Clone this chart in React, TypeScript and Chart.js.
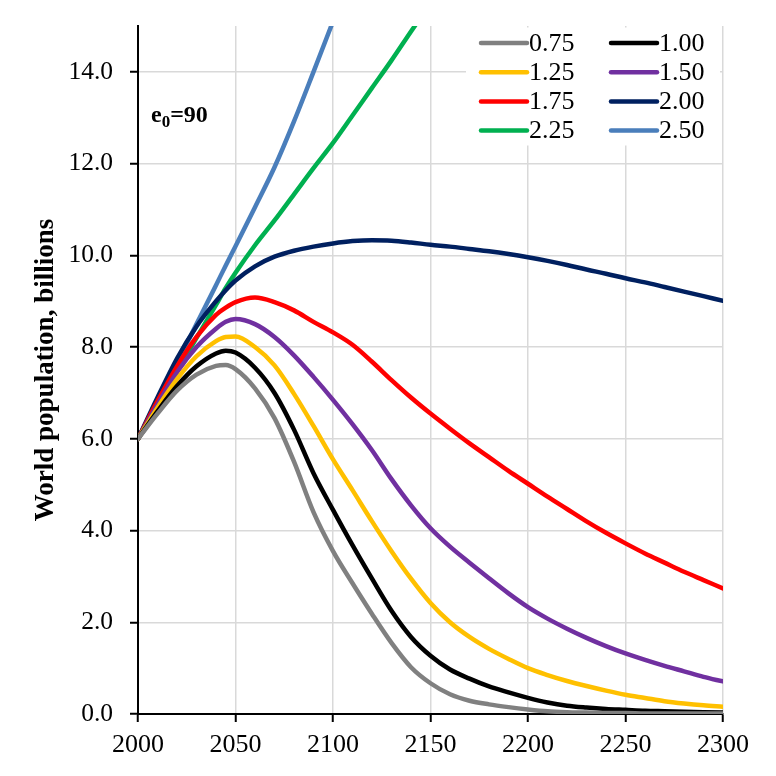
import React, { useEffect, useRef } from "react";
import { Chart, registerables } from "chart.js";

Chart.register(...registerables);

const years = [
  2000, 2010, 2020, 2030, 2040, 2045, 2050, 2060, 2070, 2080, 2090, 2100, 2110, 2120, 2130, 2140,
  2150, 2160, 2170, 2180, 2190, 2200, 2210, 2220, 2230, 2240, 2250, 2260, 2270, 2280, 2290, 2300,
];

const seriesLabels = ["0.75", "1.00", "1.25", "1.50", "1.75", "2.00", "2.25", "2.50"];

const tfr075 = [
  6.0, 6.55, 7.05, 7.4, 7.59, 7.61, 7.52, 7.1, 6.45, 5.5, 4.4, 3.55, 2.85, 2.18, 1.55, 1.02,
  0.67, 0.43, 0.29, 0.21, 0.15, 0.1, 0.06, 0.04, 0.03, 0.02, 0.02, 0.01, 0.01, 0.01, 0.01, 0.01,
];
const tfr100 = [
  6.0, 6.6, 7.15, 7.58, 7.86, 7.92, 7.88, 7.55, 7.0, 6.2, 5.25, 4.45, 3.68, 2.95, 2.25, 1.68,
  1.27, 0.97, 0.77, 0.6, 0.47, 0.35, 0.25, 0.18, 0.14, 0.11, 0.09, 0.07, 0.06, 0.05, 0.04, 0.03,
];
const tfr125 = [
  6.0, 6.68, 7.3, 7.8, 8.13, 8.22, 8.23, 8.0, 7.6, 6.98, 6.28, 5.55, 4.88, 4.2, 3.55, 2.95,
  2.42, 2.0, 1.68, 1.42, 1.2, 1.0, 0.85, 0.72, 0.61, 0.51, 0.42, 0.35, 0.28, 0.23, 0.19, 0.16,
];
const tfr150 = [
  6.0, 6.75, 7.45, 8.0, 8.4, 8.55, 8.61, 8.5, 8.22, 7.82, 7.35, 6.85, 6.32, 5.75, 5.12, 4.55,
  4.05, 3.65, 3.3, 2.96, 2.63, 2.33, 2.08, 1.86, 1.66, 1.48, 1.32, 1.18, 1.05, 0.93, 0.81, 0.71,
];
const tfr175 = [
  6.0, 6.82, 7.58, 8.22, 8.7, 8.86, 8.98, 9.08, 8.98, 8.8, 8.55, 8.32, 8.05, 7.68, 7.28, 6.9,
  6.55, 6.22, 5.9, 5.6, 5.3, 5.02, 4.74, 4.47, 4.2, 3.95, 3.72, 3.5, 3.3, 3.1, 2.92, 2.74,
];
const tfr200 = [
  6.0, 6.9, 7.75, 8.45, 9.0, 9.24, 9.45, 9.76, 9.97, 10.1, 10.19, 10.26, 10.31, 10.33, 10.32, 10.28,
  10.23, 10.19, 10.14, 10.09, 10.03, 9.96, 9.88, 9.79, 9.69, 9.6, 9.5, 9.41, 9.31, 9.21, 9.11, 9.01,
];
const tfr225 = [
  6.0, 6.73, 7.46, 8.2, 8.92, 9.29, 9.62, 10.22, 10.76, 11.33, 11.9, 12.45, 13.05, 13.65, 14.25, 14.88,
  15.5, null, null, null, null, null, null, null, null, null, null, null, null, null, null, null,
];
const tfr250 = [
  6.0, 6.83, 7.66, 8.5, 9.35, 9.78, 10.2, 11.05, 11.92, 12.92, 14.0, 15.1, 16.2, null, null, null,
  null, null, null, null, null, null, null, null, null, null, null, null, null, null, null, null,
];

const seriesValues = [tfr075, tfr100, tfr125, tfr150, tfr175, tfr200, tfr225, tfr250];
const seriesColors = ["#808080", "#000000", "#FFC000", "#7030A0", "#FF0000", "#002060", "#00B050", "#4A7EBB"];

const xTicks = [2000, 2050, 2100, 2150, 2200, 2250, 2300];
const yTicks = [0, 2, 4, 6, 8, 10, 12, 14];

const yTitle = "World population, billions";
const noteMain = "e";
const noteSub = "0";
const noteRest = "=90";

const SERIF = "'Liberation Serif', 'Times New Roman', serif";

export default function App() {
  const ref = useRef<HTMLCanvasElement>(null);

  useEffect(() => {
    const canvas = ref.current;
    if (!canvas) return;

    const overlayPlugin = {
      id: "overlayLegend",
      afterDatasetsDraw(chart: any) {
        const ctx = chart.ctx as CanvasRenderingContext2D;
        const area = chart.chartArea;
        ctx.save();
        const boxLeft = area.right - 257;
        const boxTop = area.top + 1.5;
        ctx.fillStyle = "#ffffff";
        ctx.fillRect(boxLeft, boxTop, 254, 118);
        chart.data.datasets.forEach((ds: any, i: number) => {
          const row = Math.floor(i / 2);
          const col = i % 2;
          const x0 = area.right - 242 + col * 130;
          const y = area.top + 17 + row * 29.2;
          ctx.strokeStyle = ds.borderColor;
          ctx.lineWidth = 4.5;
          ctx.lineCap = "round";
          ctx.beginPath();
          ctx.moveTo(x0, y);
          ctx.lineTo(x0 + 46, y);
          ctx.stroke();
          ctx.fillStyle = "#000";
          ctx.font = `26px ${SERIF}`;
          ctx.textBaseline = "middle";
          ctx.textAlign = "left";
          ctx.fillText(ds.label, x0 + 48, y + 1);
        });
        ctx.fillStyle = "#000";
        ctx.textBaseline = "alphabetic";
        ctx.textAlign = "left";
        let x = area.left + 13;
        const base = area.top + 95.5;
        ctx.font = `bold 24px ${SERIF}`;
        ctx.fillText(noteMain, x, base);
        x += ctx.measureText(noteMain).width;
        ctx.font = `bold 17px ${SERIF}`;
        ctx.fillText(noteSub, x, base + 5);
        x += ctx.measureText(noteSub).width;
        ctx.font = `bold 24px ${SERIF}`;
        ctx.fillText(noteRest, x, base);
        ctx.restore();
      },
    };

    const chart = new Chart(canvas, {
      type: "line",
      data: {
        datasets: seriesLabels.map((label, i) => ({
          label,
          data: years.map((yr, j) => ({ x: yr, y: seriesValues[i][j] })),
          borderColor: seriesColors[i],
          backgroundColor: seriesColors[i],
          borderWidth: 4.5,
          pointRadius: 0,
          pointHoverRadius: 0,
          fill: false,
          cubicInterpolationMode: "monotone",
          borderCapStyle: "round",
          borderJoinStyle: "round",
          spanGaps: false,
          clip: 0,
        })),
      },
      options: {
        responsive: false,
        animation: false,
        events: [],
        layout: { padding: { left: 0, top: 26, right: 53, bottom: 0 } },
        plugins: {
          legend: { display: false },
          tooltip: { enabled: false },
          title: { display: false },
        },
        scales: {
          x: {
            type: "linear",
            min: 2000,
            max: 2300,
            afterFit: (s: any) => {
              s.height = 62;
              s.paddingLeft = 0;
              s.paddingRight = 0;
            },
            afterBuildTicks: (s: any) => {
              s.ticks = xTicks.map((v) => ({ value: v }));
            },
            grid: {
              color: "#d9d9d9",
              lineWidth: 1.5,
              drawTicks: true,
              tickLength: 8,
              tickColor: "#000",
              tickWidth: 2,
            },
            border: { display: true, color: "#000", width: 2 },
            ticks: {
              color: "#000",
              font: { family: SERIF, size: 26 },
              padding: 8,
              maxRotation: 0,
              autoSkip: false,
              callback: (v: any) => String(v),
            },
          },
          y: {
            type: "linear",
            min: 0,
            max: 15,
            afterFit: (s: any) => {
              s.width = 138;
              s.paddingTop = 0;
              s.paddingBottom = 0;
            },
            afterBuildTicks: (s: any) => {
              s.ticks = yTicks.map((v) => ({ value: v }));
            },
            grid: {
              color: "#d9d9d9",
              lineWidth: 1.5,
              drawTicks: true,
              tickLength: 8,
              tickColor: "#000",
              tickWidth: 2,
            },
            border: { display: true, color: "#000", width: 2 },
            ticks: {
              color: "#000",
              font: { family: SERIF, size: 25.5 },
              padding: 17,
              autoSkip: false,
              callback: (v: any) => Number(v).toFixed(1),
            },
            title: {
              display: true,
              text: yTitle,
              color: "#000",
              font: { family: SERIF, size: 27, weight: "bold" },
              padding: { top: 30, bottom: 0 },
            },
          },
        },
      },
      plugins: [overlayPlugin],
    } as any);

    return () => {
      chart.destroy();
    };
  }, []);

  return (
    <div style={{ position: "absolute", left: 0, top: 0, width: 776, height: 776, background: "#fff" }}>
      <canvas ref={ref} width={776} height={776} style={{ width: 776, height: 776, display: "block" }} />
    </div>
  );
}
